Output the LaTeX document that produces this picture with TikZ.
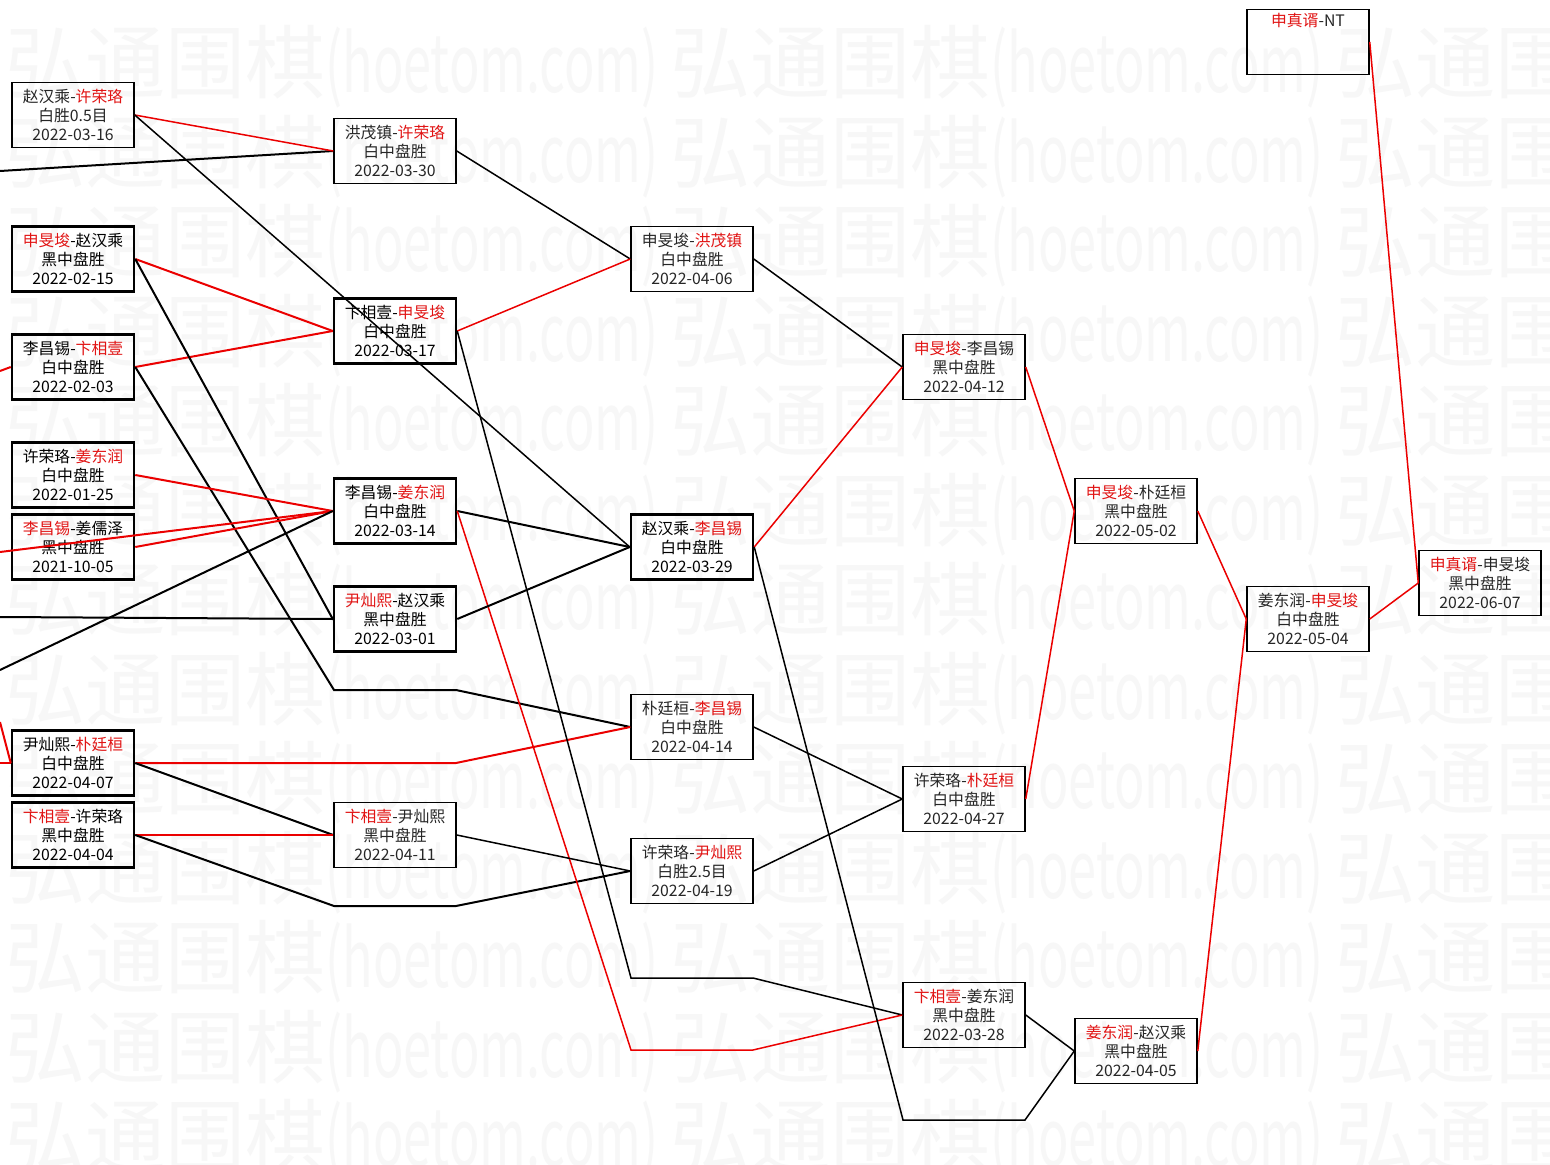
\documentclass[tikz,border=0pt]{standalone}
\usepackage{fontspec}
\setmainfont{Noto Sans CJK SC}
\usepackage{xcolor}
\usepackage{graphicx}
\definecolor{winred}{RGB}{225,20,20}
\definecolor{linered}{RGB}{235,0,0}
\definecolor{markgray}{RGB}{247,247,247}
\usepackage{tikz}
\newcommand{\winner}[1]{\textcolor{winred}{#1}}

\begin{document}
\begin{tikzpicture}[
  x=0.5pt, y=-0.5pt,
  game/.style={rectangle, minimum width=61pt, minimum height=32.5pt, inner sep=0pt,
              align=center, font=\fontsize{7.9}{9.6}\selectfont,
              draw=black, line width=0.75pt, text=black!85},
  keygame/.style={game, line width=1.25pt, text=black},
  win/.style={color=linered, line width=0.75pt},
  lose/.style={color=black, line width=0.75pt},
  heavy/.style={line width=1pt},
  wmtext/.style={anchor=west, inner sep=0pt, text=markgray,
              font=\fontsize{40}{40}\selectfont}
]

\useasboundingbox (0,0) rectangle (1550,1165);
\fill[white] (0,0) rectangle (1550,1165);

%% watermark
\begin{scope}
\clip (0,0) rectangle (1550,1165);
\foreach \r in {0,...,12}{
  \foreach \c in {0,1,2}{
    \node[wmtext] (wm-\r-\c) at (5+665*\c, 67+89.5*\r)
      {弘通围棋\scalebox{0.63}[1]{(hoetom.com)}};
  }
}
\end{scope}

%% first column
\node[game]    (a1) at (73,115) {赵汉乘-\winner{许荣珞}\\白胜0.5目\\2022-03-16};
\node[keygame] (a2) at (73,259) {\winner{申旻埈}-赵汉乘\\黑中盘胜\\2022-02-15};
\node[keygame] (a3) at (73,367) {李昌锡-\winner{卞相壹}\\白中盘胜\\2022-02-03};
\node[keygame] (a4) at (73,475) {许荣珞-\winner{姜东润}\\白中盘胜\\2022-01-25};
\node[keygame] (a5) at (73,547) {\winner{李昌锡}-姜儒泽\\黑中盘胜\\2021-10-05};
\node[keygame] (a6) at (73,763) {尹灿熙-\winner{朴廷桓}\\白中盘胜\\2022-04-07};
\node[keygame] (a7) at (73,835) {\winner{卞相壹}-许荣珞\\黑中盘胜\\2022-04-04};

%% second column
\node[game]    (b1) at (395,151) {洪茂镇-\winner{许荣珞}\\白中盘胜\\2022-03-30};
\node[keygame] (b2) at (395,331) {卞相壹-\winner{申旻埈}\\白中盘胜\\2022-03-17};
\node[keygame] (b3) at (395,511) {李昌锡-\winner{姜东润}\\白中盘胜\\2022-03-14};
\node[keygame] (b4) at (395,619) {\winner{尹灿熙}-赵汉乘\\黑中盘胜\\2022-03-01};
\node[game]    (b5) at (395,835) {\winner{卞相壹}-尹灿熙\\黑中盘胜\\2022-04-11};

%% third column
\node[game]    (c1) at (692,259) {申旻埈-\winner{洪茂镇}\\白中盘胜\\2022-04-06};
\node[keygame] (c2) at (692,547) {赵汉乘-\winner{李昌锡}\\白中盘胜\\2022-03-29};
\node[game]    (c3) at (692,727) {朴廷桓-\winner{李昌锡}\\白中盘胜\\2022-04-14};
\node[game]    (c4) at (692,871) {许荣珞-\winner{尹灿熙}\\白胜2.5目\\2022-04-19};

%% fourth column
\node[game] (d1) at (964,367)  {\winner{申旻埈}-李昌锡\\黑中盘胜\\2022-04-12};
\node[game] (d2) at (964,799)  {许荣珞-\winner{朴廷桓}\\白中盘胜\\2022-04-27};
\node[game] (d3) at (964,1015) {\winner{卞相壹}-姜东润\\黑中盘胜\\2022-03-28};

%% last rounds
\node[game] (e1) at (1136,511)  {\winner{申旻埈}-朴廷桓\\黑中盘胜\\2022-05-02};
\node[game] (e2) at (1136,1051) {\winner{姜东润}-赵汉乘\\黑中盘胜\\2022-04-05};
\node[game] (f1) at (1308,619)  {姜东润-\winner{申旻埈}\\白中盘胜\\2022-05-04};
\node[game] (g1) at (1480,583)  {\winner{申真谞}-申旻埈\\黑中盘胜\\2022-06-07};
\node[game] (nt) at (1308,42)   {\winner{申真谞}-NT\\\strut\\\strut};

%% loose ends at the left border
\coordinate (l1) at (0,171);
\coordinate (l2) at (0,371);
\coordinate (l3) at (0,552);
\coordinate (l4) at (0,617);
\coordinate (l5) at (0,670);
\coordinate (l6) at (0,722);
\coordinate (l7) at (0,763);

%% first column -> second column
\draw[lose, heavy] (l1) -- (b1.west);
\draw[win] (a1.east) -- (b1.west);
\draw[lose] (a1.east) -- (c2.west);
\draw[win, heavy] (a2.east) -- (b2.west);
\draw[win, heavy] (a3.east) -- (b2.west);
\draw[win, heavy] (l2) -- (a3.west);
\draw[lose, heavy] (a2.east) -- (b4.west);
\draw[lose, heavy] (a3.east) -- (334,690) -- (456,690) -- (c3.west);
\draw[win, heavy] (a4.east) -- (b3.west);
\draw[win, heavy] (a5.east) -- (b3.west);
\draw[win, heavy] (l3) -- (b3.west);
\draw[lose, heavy] (l5) -- (b3.west);
\draw[lose, heavy] (l4) -- (b4.west);
\draw[win, heavy] (l6) -- (a6.west);
\draw[win, heavy] (l7) -- (a6.west);
\draw[win, heavy] (a6.east) -- (456,763) -- (c3.west);
\draw[lose, heavy] (a6.east) -- (b5.west);
\draw[win, heavy] (a7.east) -- (b5.west);
\draw[lose, heavy] (a7.east) -- (334,906) -- (456,906) -- (c4.west);

%% second column -> third column
\draw[lose] (b1.east) -- (c1.west);
\draw[win] (b2.east) -- (c1.west);
\draw[lose] (b2.east) -- (631,978) -- (753,978) -- (d3.west);
\draw[lose, heavy] (b3.east) -- (c2.west);
\draw[win] (b3.east) -- (631,1050) -- (753,1050) -- (d3.west);
\draw[lose, heavy] (b4.east) -- (c2.west);
\draw[lose] (b5.east) -- (c4.west);

%% third column -> fourth column
\draw[lose] (c1.east) -- (d1.west);
\draw[win] (c2.east) -- (d1.west);
\draw[lose] (c2.east) -- (903,1120) -- (1025,1120) -- (e2.west);
\draw[lose] (c3.east) -- (d2.west);
\draw[lose] (c4.east) -- (d2.west);

%% final rounds
\draw[win] (d1.east) -- (e1.west);
\draw[win] (d2.east) -- (e1.west);
\draw[lose] (d3.east) -- (e2.west);
\draw[win] (e1.east) -- (f1.west);
\draw[win] (e2.east) -- (f1.west);
\draw[win] (f1.east) -- (g1.west);
\draw[win] (nt.east) -- (g1.west);

\end{tikzpicture}
\end{document}
